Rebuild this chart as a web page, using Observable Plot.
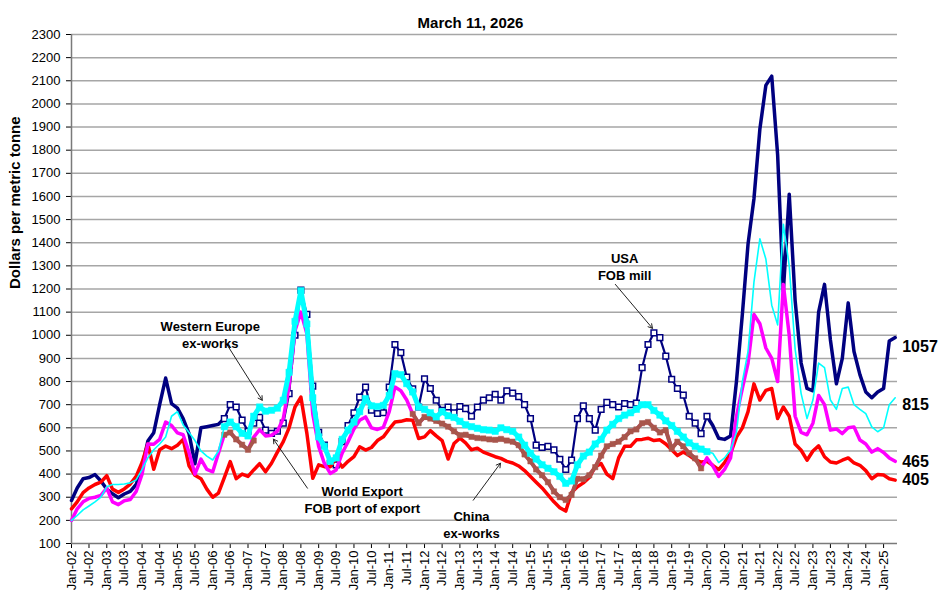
<!DOCTYPE html>
<html>
<head>
<meta charset="utf-8">
<script src="https://cdn.jsdelivr.net/npm/d3@7"></script>
<script src="https://cdn.jsdelivr.net/npm/@observablehq/plot@0.6"></script>
<style>
  body { margin: 0; background: #fff; }
  #chart { width: 942px; height: 594px; }
</style>
</head>
<body>
<div id="chart"></div>
<script>
// One value every 2 months, starting Jan 2002 (141 points)
const startYear = 2002;
const stepMonths = 2;

// USA FOB mill
const usa = [
  286,340,380,385,398,370,335,315,298,314,
  325,355,430,543,579,700,815,705,685,640,
  575,445,600,605,610,615,640,700,690,633,
  585,620,645,590,576,585,620,748,1000,1195,
  1090,780,580,525,446,440,540,610,665,733,
  776,676,662,665,776,960,925,819,768,690,
  812,770,719,676,690,665,692,683,650,690,
  720,730,745,720,760,750,735,700,640,525,
  515,520,505,464,420,460,640,695,640,590,
  680,710,700,690,705,700,707,860,960,1010,
  990,910,810,770,741,650,620,575,650,610,
  555,550,565,800,1090,1395,1590,1890,2080,2120,
  1780,1190,1610,1150,880,770,760,1100,1220,980,
  790,900,1140,930,830,755,730,755,770,975,
  990
];

// Western Europe ex-works
const europe = [
  200,221,245,262,280,300,345,355,355,357,
  362,375,420,470,505,530,560,650,670,612,
  580,545,500,478,461,500,605,625,605,576,
  565,650,690,672,676,685,719,840,1060,1193,
  1049,730,561,520,455,470,550,590,625,670,
  726,695,692,697,740,834,830,791,755,690,
  680,665,647,670,652,645,628,613,605,598,
  592,590,585,600,592,585,560,525,490,465,
  440,425,410,390,360,370,440,478,495,530,
  550,590,615,640,655,665,680,700,700,675,
  655,630,610,585,560,535,520,508,497,490,
  450,470,505,580,800,930,1230,1417,1330,1130,
  1045,1480,1300,940,748,640,720,880,860,720,
  680,770,776,700,680,661,604,583,600,700,
  730
];

// World Export FOB port of export
const world = [
  200,250,280,295,300,308,340,280,268,285,
  290,325,400,530,529,550,625,610,578,570,
  493,400,465,420,410,490,570,580,550,527,
  505,560,592,565,568,585,640,780,1020,1100,
  1006,660,520,446,403,418,490,540,595,633,
  647,600,593,602,670,776,760,720,660,620,
  647,640,630,618,605,585,568,570,561,556,
  554,550,548,552,545,540,525,485,455,420,
  395,365,325,300,288,310,380,378,395,430,
  480,520,530,540,560,585,593,620,625,600,
  580,590,510,540,520,490,468,425,470,435,
  390,420,470,650,770,880,1090,1050,945,900,
  800,1220,1000,650,580,570,620,740,700,590,
  595,575,600,604,547,530,495,510,493,470,
  455
];

// Second world-export series (brown, drawn with markers)
const worldAlt = [
  null,null,null,null,null,null,null,null,null,null,
  null,null,null,null,null,null,null,null,null,null,
  null,null,null,null,null,null,570,580,550,527,
  505,545,null,null,null,null,null,null,null,null,
  null,null,null,null,null,null,null,null,null,null,
  null,null,null,null,null,null,null,null,660,620,
  647,640,630,618,605,585,568,570,561,556,
  554,550,548,552,545,540,525,485,455,420,
  395,365,325,300,288,310,380,378,395,430,
  480,520,530,540,560,585,593,620,625,600,
  580,590,510,540,520,490,468,425,null,null,
  null,null,null,null,null,null,null,null,null,null,
  null,null,null,null,null,null,null,null,null,null,
  null,null,null,null,null,null,null,null,null,null,
  null
];

// China ex-works
const china = [
  250,280,320,340,355,365,393,335,321,336,
  357,390,450,530,421,505,521,510,525,550,
  436,395,380,335,300,318,385,454,380,400,
  390,418,445,410,447,495,540,600,690,733,
  576,382,440,432,432,470,430,455,475,518,
  504,515,545,561,595,625,628,635,633,554,
  561,588,565,545,465,532,555,535,505,512,
  495,485,475,468,455,448,435,415,390,365,
  340,310,280,255,240,320,345,362,385,432,
  445,400,380,470,520,520,548,550,555,545,
  548,530,505,480,495,480,462,452,455,438,
  419,450,489,560,600,670,790,720,762,770,
  640,690,650,530,503,460,500,522,475,452,
  448,460,470,448,438,415,380,398,396,380,
  374
];

const yTicks = d3.range(100, 2301, 100);
const xTicks = d3.utcMonth.every(6).range(new Date(Date.UTC(2002, 0, 1)), new Date(Date.UTC(2025, 1, 1)));

const titleText = "March 11, 2026";
const yLabel = "Dollars per metric tonne";

const annotations = [
  {label: "Western Europe\nex-works", date: "2005-12-07", value: 1006},
  {label: "World Export\nFOB port of export", date: "2010-03-28", value: 291},
  {label: "China\nex-works", date: "2013-05-01", value: 183},
  {label: "USA\nFOB mill", date: "2017-09-01", value: 1298}
];
const arrows = [
  {d1: "2006-06-01", v1: 957, d2: "2007-05-28", v2: 719},
  {d1: "2008-09-07", v1: 339, d2: "2007-09-21", v2: 551},
  {d1: "2013-05-19", v1: 287, d2: "2014-02-25", v2: 447},
  {d1: "2017-05-28", v1: 1220, d2: "2018-06-16", v2: 1030}
];
const endLabels = [
  {label: "1057", value: 948},
  {label: "815", value: 698},
  {label: "465", value: 451},
  {label: "405", value: 373}
];

const navy = "#000080", cyan = "#00FFFF", magenta = "#FF00FF", brown = "#A8564C", red = "#FF0000";

const rows = usa.map((v, i) => ({
  date: new Date(Date.UTC(startYear, i * stepMonths, 1)),
  usa: v, europe: europe[i], world: world[i], worldAlt: worldAlt[i], china: china[i]
}));
const lastDate = rows[rows.length - 1].date;
const markedStart = new Date(Date.UTC(2006, 4, 1));
const markedEnd = new Date(Date.UTC(2020, 0, 1));
const inMarked = d => d.date >= markedStart && d.date <= markedEnd;
const outMarked = d => d.date <= markedStart || d.date >= markedEnd;
const marked = rows.filter(inMarked);
const altRows = rows.filter(d => d.worldAlt != null);

const font = "'Liberation Sans', Arial, sans-serif";

const chart = Plot.plot({
  width: 942,
  height: 594,
  marginLeft: 71,
  marginRight: 45,
  marginTop: 34,
  marginBottom: 51,
  style: {fontFamily: font, fontSize: "13px", color: "#000", background: "#fff", overflow: "visible"},
  x: {
    type: "utc",
    domain: [new Date(Date.UTC(2002, 0, 1)), new Date(Date.UTC(2025, 4, 25))],
    ticks: xTicks,
    tickFormat: d3.utcFormat("%b-%y"),
    tickRotate: -90,
    tickSize: 5,
    tickPadding: 2,
    label: null
  },
  y: {
    domain: [100, 2300],
    ticks: yTicks,
    tickFormat: d => String(d),
    tickSize: 5,
    tickPadding: 6,
    label: null
  },
  marks: [
    Plot.ruleY(yTicks.filter(t => t > 100), {stroke: "#a6a6a6", strokeWidth: 1.5}),
    Plot.ruleY([100], {stroke: "#7a7a7a", strokeWidth: 1.5}),
    Plot.ruleX([new Date(Date.UTC(2002, 0, 1))], {stroke: "#7a7a7a", strokeWidth: 1.5}),

    // USA
    Plot.line(rows, {x: "date", y: d => outMarked(d) ? d.usa : NaN, stroke: navy, strokeWidth: 3.5, strokeLinejoin: "round"}),
    Plot.line(marked, {x: "date", y: "usa", stroke: navy, strokeWidth: 2.2}),
    Plot.dot(marked, {x: "date", y: "usa", symbol: "square", r: 3.2, stroke: navy, strokeWidth: 1.5, fill: "#fff"}),

    // China
    Plot.line(rows, {x: "date", y: "china", stroke: red, strokeWidth: 3.5, strokeLinejoin: "round"}),

    // World export
    Plot.line(rows, {x: "date", y: "world", stroke: magenta, strokeWidth: 3.5, strokeLinejoin: "round"}),
    Plot.line(rows, {x: "date", y: "worldAlt", stroke: brown, strokeWidth: 4, strokeLinejoin: "round"}),
    Plot.dot(altRows, {x: "date", y: "worldAlt", symbol: "square", r: 3, fill: brown, stroke: brown, strokeWidth: 0.5}),

    // Western Europe
    Plot.line(rows, {x: "date", y: d => outMarked(d) ? d.europe : NaN, stroke: cyan, strokeWidth: 1.6, strokeLinejoin: "round"}),
    Plot.line(marked, {x: "date", y: "europe", stroke: cyan, strokeWidth: 5, strokeLinejoin: "round"}),
    Plot.dot(marked, {x: "date", y: "europe", symbol: "square", r: 3.6, fill: cyan, stroke: cyan, strokeWidth: 0.5}),

    // Annotations
    Plot.arrow(arrows, {x1: d => new Date(d.d1), y1: "v1", x2: d => new Date(d.d2), y2: "v2", stroke: "#222", strokeWidth: 1, headLength: 7}),
    Plot.text(annotations, {x: d => new Date(d.date), y: "value", text: "label", fontWeight: "bold", fontSize: 13, lineHeight: 1.3, fill: "#000"}),
    Plot.text(endLabels, {x: () => lastDate, y: "value", text: "label", textAnchor: "start", dx: 7, fontWeight: "bold", fontSize: 16, fill: "#000"}),

    // Title & axis label
    Plot.text([titleText], {text: d => d, frameAnchor: "top", dy: -17, dx: -14, fontWeight: "bold", fontSize: 15, fill: "#000"}),
    Plot.text([yLabel], {text: d => d, frameAnchor: "left", dx: -56, rotate: -90, fontWeight: "bold", fontSize: 15, fill: "#000"})
  ]
});

document.getElementById("chart").appendChild(chart);
</script>
</body>
</html>
